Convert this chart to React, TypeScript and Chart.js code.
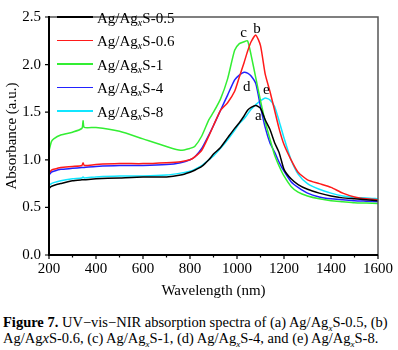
import React, { useEffect, useRef } from "react";
import { Chart, registerables } from "chart.js";

Chart.register(...registerables);

const WAVELENGTH = [200, 210, 220, 250, 300, 340, 345, 350, 400, 500, 600, 700, 760, 800, 820, 850, 880, 900, 930, 960, 990, 1010, 1030, 1045, 1060, 1080, 1100, 1120, 1140, 1160, 1180, 1200, 1230, 1260, 1300, 1350, 1400, 1450, 1500, 1550, 1600];

const ABS_05 = [0.70, 0.72, 0.73, 0.75, 0.78, 0.79, 0.79, 0.79, 0.80, 0.81, 0.82, 0.82, 0.84, 0.87, 0.89, 0.93, 1.00, 1.06, 1.13, 1.23, 1.33, 1.39, 1.46, 1.52, 1.55, 1.57, 1.54, 1.42, 1.32, 1.18, 1.07, 0.90, 0.80, 0.74, 0.69, 0.65, 0.62, 0.60, 0.59, 0.58, 0.57];
const ABS_06 = [0.86, 0.89, 0.90, 0.92, 0.93, 0.94, 0.97, 0.94, 0.95, 0.96, 0.96, 0.97, 0.98, 1.00, 1.03, 1.10, 1.25, 1.36, 1.52, 1.60, 1.72, 1.87, 2.02, 2.14, 2.24, 2.31, 2.20, 1.90, 1.72, 1.52, 1.32, 1.16, 1.00, 0.87, 0.79, 0.75, 0.71, 0.65, 0.61, 0.59, 0.58];
const ABS_1 = [1.09, 1.19, 1.22, 1.26, 1.29, 1.33, 1.41, 1.34, 1.34, 1.30, 1.22, 1.14, 1.10, 1.12, 1.14, 1.25, 1.42, 1.50, 1.64, 1.85, 2.15, 2.22, 2.24, 2.25, 2.10, 1.86, 1.62, 1.40, 1.22, 1.05, 0.93, 0.83, 0.72, 0.66, 0.62, 0.59, 0.57, 0.56, 0.55, 0.545, 0.54];
const ABS_4 = [0.84, 0.87, 0.88, 0.90, 0.91, 0.92, 0.92, 0.92, 0.93, 0.94, 0.94, 0.95, 0.97, 1.00, 1.03, 1.12, 1.26, 1.36, 1.52, 1.68, 1.84, 1.89, 1.92, 1.91, 1.88, 1.80, 1.56, 1.34, 1.18, 1.08, 0.97, 0.88, 0.77, 0.71, 0.65, 0.61, 0.59, 0.58, 0.57, 0.565, 0.56];
const ABS_8 = [0.73, 0.75, 0.76, 0.78, 0.80, 0.81, 0.82, 0.81, 0.82, 0.83, 0.83, 0.84, 0.86, 0.88, 0.90, 0.94, 1.00, 1.04, 1.12, 1.21, 1.31, 1.38, 1.43, 1.48, 1.53, 1.58, 1.62, 1.65, 1.63, 1.56, 1.40, 1.23, 1.00, 0.85, 0.75, 0.69, 0.65, 0.62, 0.605, 0.60, 0.59];

const SERIES_NAMES = ["Ag/AgxS-0.5", "Ag/AgxS-0.6", "Ag/AgxS-1", "Ag/AgxS-4", "Ag/AgxS-8"];
const SERIES_SUFFIX = ["S-0.5", "S-0.6", "S-1", "S-4", "S-8"];
const SERIES_VALUES = [ABS_05, ABS_06, ABS_1, ABS_4, ABS_8];
const SERIES_COLORS = ["#000000", "#ff1a1a", "#33ee33", "#2222ff", "#11e6ff"];

const PEAK_LABELS = ["a", "b", "c", "d", "e"];
const PEAK_X = [1091, 1085, 1028, 1041, 1125];
const PEAK_Y = [1.417, 2.328, 2.287, 1.72, 1.69];

const X_MIN = 200;
const X_MAX = 1600;
const Y_MIN = 0;
const Y_MAX = 2.5;

const SERIF = "'Liberation Serif', 'Times New Roman', serif";

const decorPlugin = {
  id: "decor",
  afterDraw(chart: any) {
    const { ctx, chartArea } = chart;
    const xs = chart.scales.x;
    const ys = chart.scales.y;
    const { left, right, top, bottom } = chartArea;
    ctx.save();
    ctx.strokeStyle = "#555555";
    ctx.lineWidth = 1.5;
    ctx.beginPath();
    ctx.moveTo(left, top);
    ctx.lineTo(right, top);
    ctx.lineTo(right, bottom);
    ctx.stroke();
    ctx.strokeStyle = "#000000";
    ctx.lineWidth = 2;
    ctx.beginPath();
    ctx.moveTo(left, top - 1);
    ctx.lineTo(left, bottom);
    ctx.lineTo(right, bottom);
    ctx.stroke();
    ctx.lineWidth = 1.2;
    ctx.beginPath();
    for (let v = X_MIN; v <= X_MAX; v += 100) {
      const px = xs.getPixelForValue(v);
      const len = v % 200 === 0 ? 4 : 2.5;
      ctx.moveTo(px, bottom);
      ctx.lineTo(px, bottom + len);
    }
    for (let v = Y_MIN; v <= Y_MAX + 1e-9; v += 0.5) {
      const py = ys.getPixelForValue(v);
      ctx.moveTo(left, py);
      ctx.lineTo(left - 4, py);
    }
    ctx.stroke();
    ctx.fillStyle = "#000000";
    ctx.font = "15px " + SERIF;
    ctx.textAlign = "center";
    ctx.textBaseline = "alphabetic";
    PEAK_LABELS.forEach((t, i) => {
      ctx.fillText(t, xs.getPixelForValue(PEAK_X[i]), ys.getPixelForValue(PEAK_Y[i]));
    });
    ctx.restore();
  },
};

const subStyle: React.CSSProperties = { fontSize: 9, fontStyle: "italic", lineHeight: 0 };

export default function App() {
  const ref = useRef<HTMLCanvasElement | null>(null);

  useEffect(() => {
    if (!ref.current) return;
    const chart = new Chart(ref.current, {
      type: "line",
      data: {
        datasets: SERIES_VALUES.map((vals, i) => ({
          label: SERIES_NAMES[i],
          data: WAVELENGTH.map((w, j) => ({ x: w, y: vals[j] })),
          borderColor: SERIES_COLORS[i],
          backgroundColor: SERIES_COLORS[i],
          borderWidth: 1.5,
          pointRadius: 0,
          tension: 0.2,
          fill: false,
        })),
      },
      options: {
        responsive: false,
        animation: false,
        events: [],
        layout: { padding: { top: 8, right: 16, left: 0, bottom: 0 } },
        plugins: {
          legend: { display: false },
          tooltip: { enabled: false },
        },
        scales: {
          x: {
            type: "linear",
            min: X_MIN,
            max: X_MAX,
            grid: { display: false, drawTicks: false },
            border: { display: false },
            ticks: {
              stepSize: 200,
              padding: 5,
              color: "#000",
              font: { family: SERIF, size: 15 },
              maxRotation: 0,
              callback: (v: any) => String(v),
            },
            title: {
              display: true,
              text: "Wavelength (nm)",
              color: "#000",
              font: { family: SERIF, size: 15 },
              padding: { top: 0, bottom: 0 },
            },
            afterFit(scale: any) {
              scale.height = 45;
            },
          },
          y: {
            type: "linear",
            min: Y_MIN,
            max: Y_MAX,
            grid: { display: false, drawTicks: false },
            border: { display: false },
            ticks: {
              stepSize: 0.5,
              padding: 8,
              color: "#000",
              font: { family: SERIF, size: 15 },
              callback: (v: any) => Number(v).toFixed(1),
            },
            title: {
              display: true,
              text: "Absorbance (a.u.)",
              color: "#000",
              font: { family: SERIF, size: 15 },
              padding: { top: 3, bottom: 0 },
            },
            afterFit(scale: any) {
              scale.width = 49;
            },
          },
        },
      },
      plugins: [decorPlugin],
    } as any);
    return () => chart.destroy();
  }, []);

  return (
    <div style={{ position: "absolute", left: 0, top: 0, width: 398, height: 350, background: "#fff", fontFamily: SERIF, color: "#000" }}>
      <canvas ref={ref} width={398} height={300} style={{ display: "block", width: 398, height: 300 }} />
      {SERIES_NAMES.map((name, i) => {
        const cy = 17 + i * 23.5;
        return (
          <React.Fragment key={name}>
            <div style={{ position: "absolute", left: 57, top: cy - 0.75, width: 36, height: 1.5, background: SERIES_COLORS[i] }} />
            <div style={{ position: "absolute", left: 97, top: cy - 8.5, fontSize: 15, lineHeight: "18px", whiteSpace: "nowrap" }}>
              Ag/Ag<sub style={{ fontSize: 10, fontStyle: "italic", lineHeight: 0, verticalAlign: "-3px" }}>x</sub>{SERIES_SUFFIX[i]}
            </div>
          </React.Fragment>
        );
      })}
      <div style={{ position: "absolute", left: 3, top: 314, fontSize: 14.5, lineHeight: "16px", whiteSpace: "nowrap" }}>
        <div><b>Figure 7.</b> UV−vis−NIR absorption spectra of (a) Ag/Ag<sub style={subStyle}>x</sub>S-0.5, (b)</div>
        <div>Ag/Ag<i>x</i>S-0.6, (c) Ag/Ag<sub style={subStyle}>x</sub>S-1, (d) Ag/Ag<sub style={subStyle}>x</sub>S-4, and (e) Ag/Ag<sub style={subStyle}>x</sub>S-8.</div>
      </div>
    </div>
  );
}
